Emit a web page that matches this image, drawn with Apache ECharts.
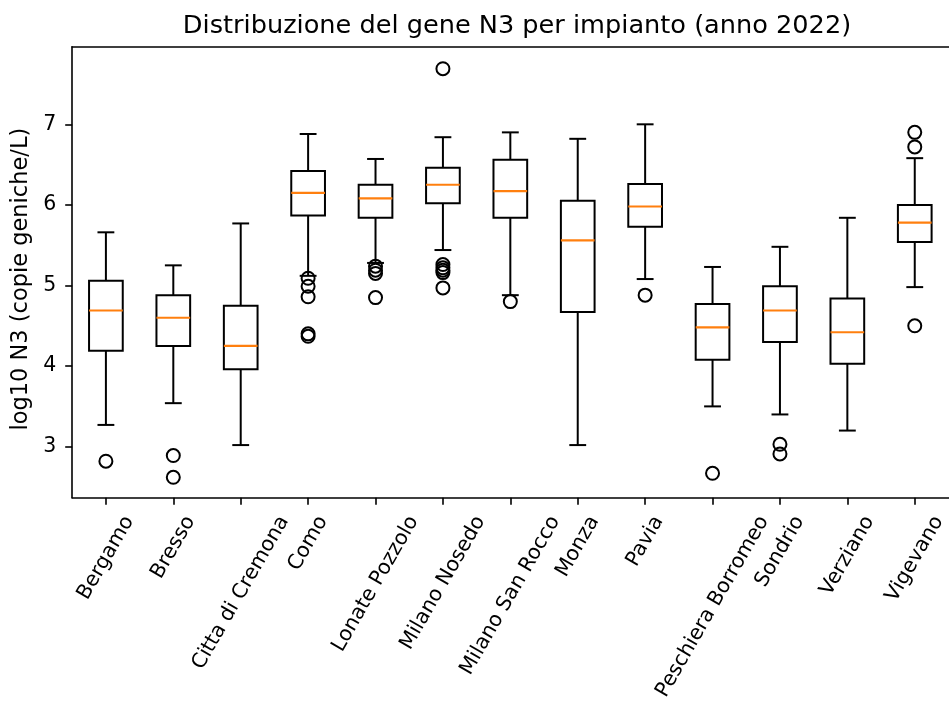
<!DOCTYPE html>
<html><head><meta charset="utf-8">
<script src="https://cdn.jsdelivr.net/npm/echarts@6/dist/echarts.min.js"></script>
<style>html,body{margin:0;padding:0;background:#fff}#c{width:949px;height:708px}</style>
</head><body><div id="c"></div>
<script>
const categories = ['Bergamo','Bresso','Citta di Cremona','Como','Lonate Pozzolo','Milano Nosedo','Milano San Rocco','Monza','Pavia','Peschiera Borromeo','Sondrio','Verziano','Vigevano'];
const whiskerLow  = [3.27,3.54,3.02,5.12,5.28,5.44,4.88,3.02,5.08,3.50,3.40,3.20,4.98];
const q1          = [4.19,4.25,3.96,5.87,5.84,6.02,5.84,4.67,5.73,4.08,4.30,4.03,5.54];
const median      = [4.69,4.60,4.25,6.15,6.08,6.25,6.17,5.56,5.98,4.48,4.69,4.42,5.78];
const q3          = [5.06,4.88,4.75,6.42,6.25,6.46,6.56,6.05,6.26,4.77,4.99,4.84,6.00];
const whiskerHigh = [5.66,5.25,5.77,6.88,6.57,6.84,6.90,6.82,7.00,5.23,5.48,5.84,6.58];
const outliers = [[2.82],[2.89,2.62],[],[5.09,4.99,4.86,4.40,4.37],[5.24,5.19,5.15,4.85],[7.69,5.26,5.22,5.19,5.16,4.97],[4.80],[],[4.88],[2.67],[3.03,2.91],[],[6.90,6.72,4.50]];
const yTicks = [3,4,5,6,7];
const titleText = 'Distribuzione del gene N3 per impianto (anno 2022)';
const yName = 'log10 N3 (copie geniche/L)';

const FONT = 'DejaVu Sans';
const TICK_FS = 20.5;
const cv = document.createElement('canvas').getContext('2d');
cv.font = TICK_FS + 'px "' + FONT + '"';
const rich = {};
categories.forEach((c, i) => {
  const L = cv.measureText(c).width;
  rich['s' + i] = {fontSize: TICK_FS, fontFamily: FONT, color: '#000',
    padding: [0.433 * L, 0.75 * L, 0, 0]};
});

const boxData = categories.map((c, i) => [i, whiskerLow[i], q1[i], median[i], q3[i], whiskerHigh[i]]);
const outData = [];
outliers.forEach((arr, i) => arr.forEach(v => outData.push([i, v])));

const chart = echarts.init(document.getElementById('c'), null, {renderer: 'canvas'});
chart.setOption({
  animation: false,
  backgroundColor: '#fff',
  title: {text: titleText, left: 512, top: 8, textAlign: 'center',
    textStyle: {fontSize: 25.6, fontWeight: 'normal', fontFamily: FONT, color: '#000'}},
  grid: {left: 72.2, top: 46.7, right: -2.8, bottom: 210.3, show: false},
  xAxis: [{type: 'category', data: categories, boundaryGap: true,
    axisLine: {show: true, lineStyle: {color: '#000', width: 1.6}},
    axisTick: {show: true, alignWithLabel: true, length: 7, lineStyle: {color: '#000', width: 1.6}},
    axisLabel: {interval: 0, rotate: 60, align: 'center', verticalAlign: 'middle', margin: 20,
      fontSize: TICK_FS, fontFamily: FONT, color: '#000',
      formatter: (v, i) => '{s' + i + '|' + v + '}', rich: rich},
    splitLine: {show: false}},
    {type: 'category', data: categories, position: 'top',
    axisLine: {show: true, lineStyle: {color: '#000', width: 1.6}},
    axisTick: {show: false}, axisLabel: {show: false}, splitLine: {show: false}}],
  yAxis: {type: 'value', min: 2.367, max: 7.963,
    axisLine: {show: true, lineStyle: {color: '#000', width: 1.6}},
    axisTick: {show: true, length: 7, customValues: yTicks, lineStyle: {color: '#000', width: 1.6}},
    axisLabel: {customValues: yTicks, fontSize: TICK_FS, fontFamily: FONT, color: '#000', margin: 16},
    splitLine: {show: false},
    name: yName, nameLocation: 'middle', nameGap: 38,
    nameTextStyle: {fontSize: 22.5, fontFamily: FONT, color: '#000', padding: [0, 14, 0, 0]}},
  series: [
    {type: 'custom', data: boxData, encode: {x: 0, y: [1, 2, 3, 4, 5]},
      renderItem: function (params, api) {
        const i = api.value(0);
        const lo = api.coord([i, api.value(1)]);
        const b1 = api.coord([i, api.value(2)]);
        const md = api.coord([i, api.value(3)]);
        const b3 = api.coord([i, api.value(4)]);
        const hi = api.coord([i, api.value(5)]);
        const band = api.size([1, 0])[0];
        const hw = band * 0.25, cw = band * 0.125, x = lo[0];
        const st = {stroke: '#000', lineWidth: 2, fill: null};
        return {type: 'group', children: [
          {type: 'line', shape: {x1: x, y1: b1[1], x2: x, y2: lo[1]}, style: st},
          {type: 'line', shape: {x1: x, y1: b3[1], x2: x, y2: hi[1]}, style: st},
          {type: 'line', shape: {x1: x - cw, y1: lo[1], x2: x + cw, y2: lo[1]}, style: st},
          {type: 'line', shape: {x1: x - cw, y1: hi[1], x2: x + cw, y2: hi[1]}, style: st},
          {type: 'rect', shape: {x: x - hw, y: b3[1], width: 2 * hw, height: b1[1] - b3[1]},
            style: {stroke: '#000', lineWidth: 2, fill: 'none'}},
          {type: 'line', shape: {x1: x - hw, y1: md[1], x2: x + hw, y2: md[1]},
            style: {stroke: '#ff7f0e', lineWidth: 2.2}}
        ]};
      }},
    {type: 'scatter', data: outData, symbol: 'circle', symbolSize: 13,
      itemStyle: {color: 'rgba(0,0,0,0)', borderColor: '#000', borderWidth: 2, opacity: 1}}
  ]
});
</script></body></html>
